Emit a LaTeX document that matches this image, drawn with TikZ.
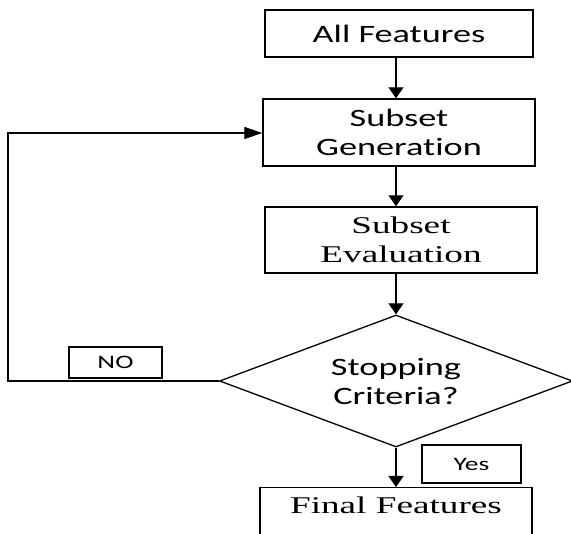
\documentclass[tikz,border=0pt]{standalone}
\usepackage{fontspec}
\usetikzlibrary{arrows.meta,shapes.geometric}
\newfontfamily\flowsans{Carlito}[FakeStretch=1.45,Ligatures=NoCommon]
\newfontfamily\flowserif{Liberation Serif}[FakeStretch=1.55]
\tikzset{
  edge/.style={line width=1.3pt,-{Triangle[length=11pt,width=15pt]}},
  loopedge/.style={line width=1.3pt,-{Triangle[length=18pt,width=12pt]}},
  stagebox/.style={draw,line width=1.4pt,rectangle,inner sep=0pt,align=center},
  sanstext/.style={font=\flowsans\fontsize{25}{29}\selectfont},
  seriftext/.style={font=\flowserif\fontsize{24}{29}\selectfont},
  tagbox/.style={draw,line width=1.3pt,rectangle,inner sep=0pt,font=\flowsans\fontsize{19}{22}\selectfont},
  decision/.style={draw,line width=1.3pt,diamond,inner sep=0pt,aspect=2.67,
    minimum width=353pt,minimum height=132pt,align=center},
}
\begin{document}
\begin{tikzpicture}[x=1pt,y=-1pt]
  \clip (0,0) rectangle (571,534);
  \fill[white] (0,0) rectangle (571,534);

  % vertical guide for the main flow line
  \coordinate (axis) at (396,0);

  % stages
  \node[stagebox,sanstext,minimum width=268pt,minimum height=47pt] (allf) at (399,33.5) {All Features};
  \node[stagebox,sanstext,minimum width=272pt,minimum height=67pt] (gen) at (399,132.5) {Subset\\Generation};
  \node[stagebox,seriftext,minimum width=272pt,minimum height=66pt] (eval) at (401,240) {Subset\\Evaluation};
  \node[decision,sanstext] (stop) at (396,381) {Stopping\\Criteria?};
  \node[stagebox,seriftext,minimum width=272pt,anchor=north,inner ysep=9pt,text depth=50pt] (final) at (396,487) {Final Features};

  % branch labels
  \node[tagbox,minimum width=93pt,minimum height=31pt] (no) at (115.5,362.5) {NO};
  \node[tagbox,minimum width=99pt,minimum height=38pt] (yes) at (471.5,464) {Yes};

  % flow
  \draw[edge] (allf.south -| axis) -- (gen.north -| axis);
  \draw[edge] (gen.south -| axis) -- (eval.north -| axis);
  \draw[edge] (eval.south -| axis) -- (stop.north);
  \draw[edge] (stop.south) -- (final.north);

  % return path when the criteria are not met
  \coordinate (lowcorner) at (8,381);
  \coordinate (highcorner) at (8,133);
  \draw[loopedge] (stop.west) -- (lowcorner) -- (highcorner) -- (gen.west |- highcorner);
\end{tikzpicture}
\end{document}
